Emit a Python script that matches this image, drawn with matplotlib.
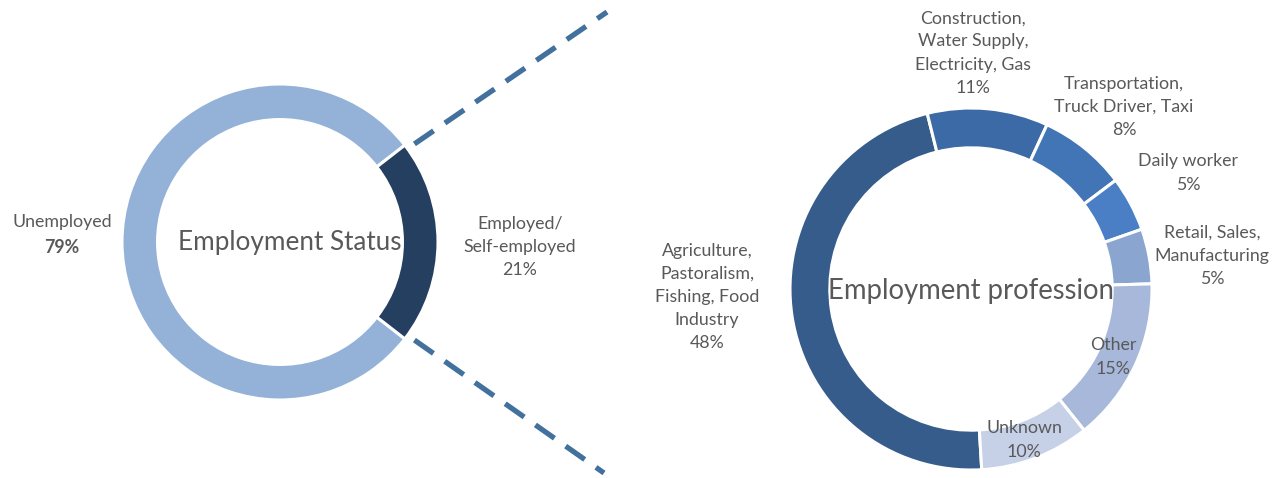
import numpy as np
import matplotlib
matplotlib.use("Agg")
import matplotlib.pyplot as plt

plt.rcParams['font.family'] = ['Lato', 'DejaVu Sans']

# employment status (left ring)
status_labels = ['Unemployed', 'Employed/\nSelf-employed']
status_values = [79, 21]
status_colors = ['#94B2D8', '#243F60']

# employment profession (right ring)
prof_labels = ['Agriculture,\nPastoralism,\nFishing, Food\nIndustry',
               'Construction,\nWater Supply,\nElectricity, Gas',
               'Transportation,\nTruck Driver, Taxi',
               'Daily worker',
               'Retail, Sales,\nManufacturing',
               'Other',
               'Unknown']
prof_values = [48, 11, 8, 5, 5, 15, 10]
prof_colors = ['#355C8A', '#3C6AA6', '#4275B5', '#4A7EC5',
               '#8AA5CF', '#A7B8DA', '#C6D1E7']

W, H = 1288, 478
fig = plt.figure(figsize=(W / 100, H / 100), dpi=100)
grey = '#595959'


def ring_axes(cx, cy, r):
    # square axes box in pixels, centred on (cx, cy)
    ax = fig.add_axes([(cx - r) / W, (H - cy - r) / H, 2 * r / W, 2 * r / H])
    ax.set_xlim(-1, 1)
    ax.set_ylim(-1, 1)
    ax.axis('off')
    return ax


# left donut
c1, r1 = (280, 242), 158
ax1 = ring_axes(c1[0], c1[1], r1)
emp_half = 360 * status_values[1] / sum(status_values) / 2
ax1.pie(status_values, colors=status_colors, radius=1, startangle=emp_half,
        counterclock=True,
        wedgeprops=dict(width=0.225, edgecolor='white', linewidth=2.2))
ax1.set_xlim(-1, 1)
ax1.set_ylim(-1, 1)

# right donut
c2, r2 = (971, 289), 181
ax2 = ring_axes(c2[0], c2[1], r2)
ax2.pie(prof_values, colors=prof_colors, radius=1, startangle=-86.6,
        counterclock=False,
        wedgeprops=dict(width=0.22, edgecolor='white', linewidth=2.2))
ax2.set_xlim(-1, 1)
ax2.set_ylim(-1, 1)

# overlay in pixel coordinates for labels and connector lines
ov = fig.add_axes([0, 0, 1, 1], zorder=5)
ov.set_xlim(0, W)
ov.set_ylim(H, 0)
ov.axis('off')

# dashed connectors from the edges of the employed slice
for sgn, end in [(1, (607, 12)), (-1, (604, 473))]:
    a = np.deg2rad(sgn * emp_half)
    x0 = c1[0] + (r1 + 2) * np.cos(a)
    y0 = c1[1] - (r1 + 2) * np.sin(a)
    ov.plot([x0 + 8, end[0]], [y0, end[1]], color='#41719C', lw=3.8,
            linestyle=(0, (4.4, 2.6)), solid_capstyle='butt',
            dash_capstyle='butt')

fs = 12.8
ls = 1.55
ov.text(290, 242, 'Employment Status', fontsize=18.8, color=grey,
        ha='center', va='center')
ov.text(971, 291, 'Employment profession', fontsize=19.8, color=grey,
        ha='center', va='center')

ov.text(62, 222, status_labels[0], fontsize=fs, color=grey,
        ha='center', va='center')
ov.text(62, 247, f'{status_values[0]}%', fontsize=fs, color=grey,
        ha='center', va='center', fontweight='bold')
ov.text(520, 247, f'{status_labels[1]}\n{status_values[1]}%', fontsize=fs,
        color=grey, ha='center', va='center', linespacing=ls)

prof_pos = [(707, 297), (973, 53), (1124, 107), (1188, 173),
            (1212, 256), (1113, 357), (1024, 440)]
for lab, val, (x, y) in zip(prof_labels, prof_values, prof_pos):
    ov.text(x, y, f'{lab}\n{val}%', fontsize=fs, color=grey,
            ha='center', va='center', linespacing=ls)

fig.savefig('out.png', dpi=100, facecolor='white')
